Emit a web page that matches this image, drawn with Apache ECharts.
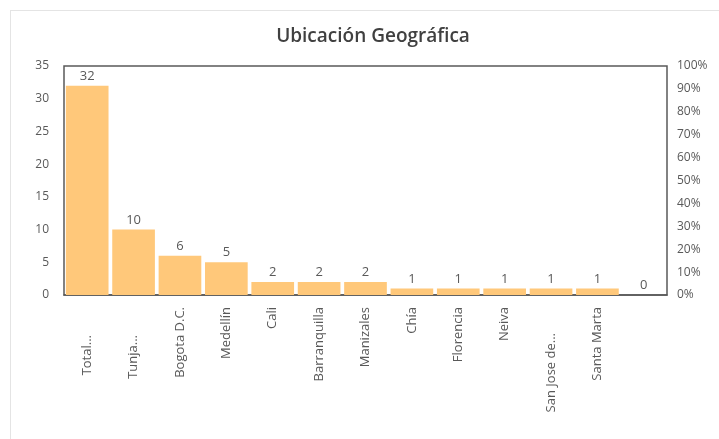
<!DOCTYPE html>
<html><head><meta charset="utf-8">
<script src="https://cdn.jsdelivr.net/npm/echarts@6/dist/echarts.min.js"></script>
<style>
html,body{margin:0;padding:0;background:#fff;}
#frame{position:absolute;left:10px;top:10px;width:720px;height:440px;border-left:1px solid #e4e4e4;border-top:1px solid #e4e4e4;}
#chart{position:absolute;left:0;top:0;width:719px;height:439px;}
</style></head>
<body>
<div id="frame"></div>
<div id="chart"></div>
<script>
var categories = ['Total...', 'Tunja...', 'Bogota D.C.', 'Medellín', 'Cali', 'Barranquilla', 'Manizales', 'Chía', 'Florencia', 'Neiva', 'San Jose de...', 'Santa Marta', ''];
var values = [32, 10, 6, 5, 2, 2, 2, 1, 1, 1, 1, 1, 0];
var leftTicks = [0, 35, 5];
var rightTicks = [0, 100, 10];
var labelOffset = [28, 28, 0, 0, 0, 0, 0, 0, 0, 0, 26, 0, 0];

var chart = echarts.init(document.getElementById('chart'));
var font = 'Open Sans, Liberation Sans, sans-serif';
var catData = categories.map(function (c, i) {
  return {value: c, textStyle: {padding: [0, labelOffset[i], 0, 0]}};
});
chart.setOption({
  animation: false,
  title: {
    text: 'Ubicación Geográfica', left: 368, textAlign: 'center', top: 22,
    textStyle: {fontFamily: font, fontSize: 19, fontWeight: 600, color: '#404040'}
  },
  grid: {left: 64, right: 52, top: 66, bottom: 144, show: true, borderColor: '#595959', borderWidth: 1.5, backgroundColor: 'transparent'},
  xAxis: {
    type: 'category', data: catData,
    axisLine: {show: true, lineStyle: {color: '#595959', width: 1.5}},
    axisTick: {show: false},
    axisLabel: {rotate: 90, interval: 0, color: '#595959', fontFamily: font, fontSize: 13, margin: 12}
  },
  yAxis: [{
    type: 'value', min: leftTicks[0], max: leftTicks[1], interval: leftTicks[2],
    splitLine: {show: false},
    axisLine: {show: false}, axisTick: {show: false},
    axisLabel: {color: '#595959', fontFamily: font, fontSize: 12, margin: 15}
  }, {
    type: 'value', min: rightTicks[0], max: rightTicks[1], interval: rightTicks[2], position: 'right',
    splitLine: {show: false},
    axisLine: {show: false}, axisTick: {show: false},
    axisLabel: {color: '#595959', fontFamily: font, fontSize: 12, margin: 10, formatter: '{value}%'}
  }],
  series: [{
    type: 'bar', data: values, barCategoryGap: '8%',
    itemStyle: {color: '#FFC87A'},
    label: {show: true, position: 'top', color: '#595959', fontFamily: font, fontSize: 13, distance: 3}
  }]
});
</script>
</body></html>
